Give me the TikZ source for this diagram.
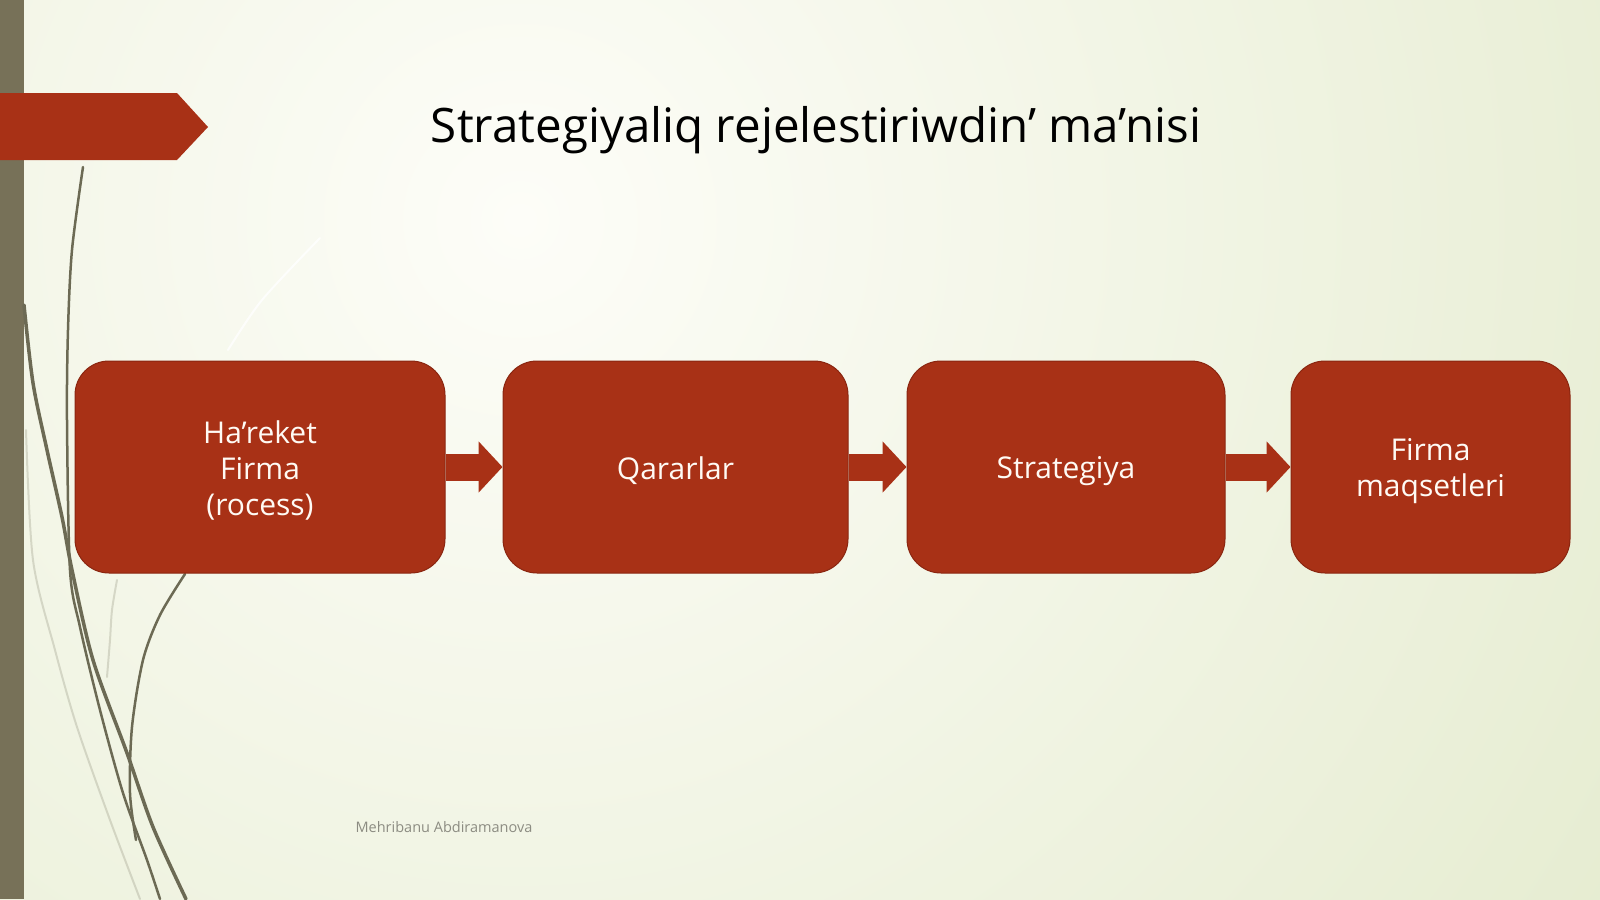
\documentclass[tikz,border=0pt]{standalone}
\usepackage{fontspec}
\setmainfont{Open Sans}
\usetikzlibrary{arrows.meta}
\newlength{\du}
\setlength{\du}{1pt}
\definecolor{slidered}{RGB}{168,49,22}
\definecolor{slideredline}{RGB}{138,38,16}
\definecolor{barcolor}{RGB}{119,113,88}
\definecolor{stemcolor}{RGB}{108,106,84}
\definecolor{paleground}{RGB}{221,230,194}
\definecolor{lightground}{RGB}{253,253,248}
\definecolor{footgray}{RGB}{140,140,130}
\definecolor{boxtext}{RGB}{255,250,244}
\newcommand{\linestrut}{\rule[-6pt]{0pt}{36pt}}
\tikzset{
  procbox/.style={rounded corners=34\du, fill=slidered, draw=slideredline, line width=1\du,
    text=boxtext, align=center, inner sep=0pt, minimum height=212\du,
    font=\fontsize{30}{36}\selectfont,
    execute at begin node=\linestrut, execute at end node=\linestrut},
  fatarrow/.style={draw=slidered, line width=27\du, -{Triangle[width=50pt,length=24pt]}},
  stem/.style={draw=stemcolor, line cap=round},
  faintstem/.style={draw=stemcolor, opacity=0.22, line cap=round, line width=2\du},
}

\begin{document}
\begin{tikzpicture}
\pgftransformxscale{1.000000}
\pgftransformyscale{-1.000000}
\useasboundingbox (0\du,0\du) rectangle (1600\du,899\du);
% background
\fill[paleground] (0\du,0\du) rectangle (1600\du,899\du);
\begin{scope}
\clip (0\du,0\du) rectangle (1600\du,899\du);
\shade[inner color=lightground, outer color=paleground] (520\du,220\du) circle (1800\du);
\end{scope}
\fill[barcolor] (0\du,0\du) rectangle (24\du,899\du);
\fill[slidered] (0\du,93\du)--(177\du,93\du)--(208\du,127\du)--(177\du,160\du)--(0\du,160\du)--cycle;
% stems
\draw[faintstem] plot[smooth] coordinates {(26\du,430\du) (33\du,560\du) (55\du,650\du) (77\du,727\du) (110\du,820\du) (140\du,899\du)};
\draw[faintstem] plot[smooth] coordinates {(117\du,580\du) (112\du,610\du) (110\du,640\du) (107\du,677\du)};
\draw[faintstem, draw=white, opacity=0.8] plot[smooth] coordinates {(228\du,350\du) (262\du,300\du) (320\du,238\du)};
\draw[stem, line width=2.5\du] plot[smooth] coordinates {(83\du,167\du) (72\du,250\du) (68\du,330\du) (67\du,420\du) (70\du,570\du) (80\du,627\du) (100\du,710\du) (123\du,793\du) (147\du,860\du) (160\du,899\du)};
\draw[stem, line width=3.5\du] plot[smooth] coordinates {(24\du,305\du) (33\du,383\du) (47\du,450\du) (62\du,517\du) (72\du,570\du) (93\du,660\du) (127\du,753\du) (153\du,827\du) (186\du,899\du)};
\draw[stem, line width=2.5\du] plot[smooth] coordinates {(185\du,574\du) (160\du,615\du) (143\du,660\du) (132\du,727\du) (130\du,793\du) (136\du,840\du)};
% setfont left to latex
\node[anchor=base] (title) at (816\du,142\du) {\fontsize{47.5}{57}\selectfont Strategiyaliq rejelestiriwdin’ ma’nisi};
% setfont left to latex
\node[procbox, minimum width=370\du] (hareket) at (260\du,467\du) {\linestrut Ha’reket\\Firma\\(rocess)\linestrut};
\node[procbox, minimum width=345\du] (qararlar) at (675.5\du,467\du) {Qararlar};
\node[procbox, minimum width=318\du] (strategiya) at (1066\du,467\du) {Strategiya};
\node[procbox, minimum width=279\du] (maqset) at (1430.5\du,467\du) {\linestrut Firma\\maqsetleri\linestrut};
\draw[fatarrow] (hareket.east) -- (qararlar.west);
\draw[fatarrow] (qararlar.east) -- (strategiya.west);
\draw[fatarrow] (strategiya.east) -- (maqset.west);
% setfont left to latex
\node[anchor=base, text=footgray, font=\fontsize{14.5}{17}\selectfont] (author) at (444\du,832\du) {Mehribanu Abdiramanova};
\end{tikzpicture}
\end{document}
